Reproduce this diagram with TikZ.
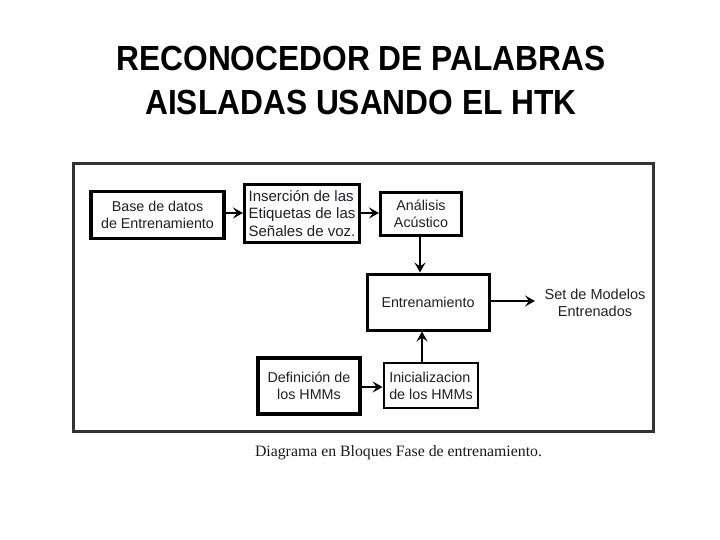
\documentclass[tikz,border=0pt]{standalone}
\usepackage{fontspec}
\setmainfont{Liberation Sans}
\newfontfamily\serifcap{Liberation Serif}
\usetikzlibrary{arrows.meta}
\definecolor{txt}{HTML}{221E28}
\definecolor{frame}{HTML}{333333}
\tikzset{
  blk/.style={draw=black, line width=3pt, fill=white, align=left, text=txt,
    font=\fontsize{14.3}{16.8}\selectfont, inner sep=0pt},
  conn/.style={line width=2.5pt, -{Stealth[length=10pt,width=11pt,inset=4pt]}},
  plain/.style={line width=2.5pt}
}
\begin{document}
\begin{tikzpicture}[x=1pt,y=-1pt]
\useasboundingbox (0,0) rectangle (720,540);
% title
\node (title) at (361,80) [font=\fontsize{31.7}{40}\selectfont\bfseries, align=center, yscale=1.1] {RECONOCEDOR DE PALABRAS\\AISLADAS USANDO EL HTK};
% outer frame
\draw[frame, line width=3pt] (73,164) rectangle (653,431);
% boxes
\node[blk, minimum width=133pt, minimum height=47pt, line width=3.5pt, align=center] (b1) at (157.5,215) {Base de datos\\de Entrenamiento};
\node[blk, minimum width=115pt, minimum height=57pt, font=\fontsize{15}{17.5}\selectfont] (b2) at (302,213.5) {Inserción de las\\Etiquetas de las\\Señales de voz.};
\node[blk, minimum width=81pt, minimum height=42pt, align=center] (b3) at (421,214) {Análisis\\Acústico};
\node[blk, minimum width=122pt, minimum height=56pt, align=center] (b4) at (428,302) {Entrenamiento};
\node[blk, minimum width=102pt, minimum height=56pt, line width=3.5pt, align=center] (b5) at (309,386) {Definición de\\los HMMs};
\node[blk, minimum width=94pt, minimum height=45pt, line width=2.8pt] (b6) at (431,385.5) {Inicializacion\\de los HMMs};
\node[text=txt, font=\fontsize{14.5}{16.5}\selectfont, align=center] (out) at (595,303) {Set de Modelos\\Entrenados};
% caption
\node[font=\serifcap\fontsize{15.8}{18}\selectfont, text=black!90] (cap) at (398.5,453) {Diagrama en Bloques Fase de entrenamiento.};
% connectors
\draw[conn] (b1.east|-0,213) -- (b2.west|-0,213);
\draw[conn] (b2.east|-0,213) -- (b3.west|-0,213);
\draw[conn] (b3.south-|420,0) -- (b4.north-|420,0);
\draw[conn] (b5.east|-0,387) -- (b6.west|-0,387);
\draw[conn] (b6.north-|422,0) -- (b4.south-|422,0);
\draw[conn] (b4.east|-0,301) -- (535,301) coordinate (tip);
\end{tikzpicture}
\end{document}
